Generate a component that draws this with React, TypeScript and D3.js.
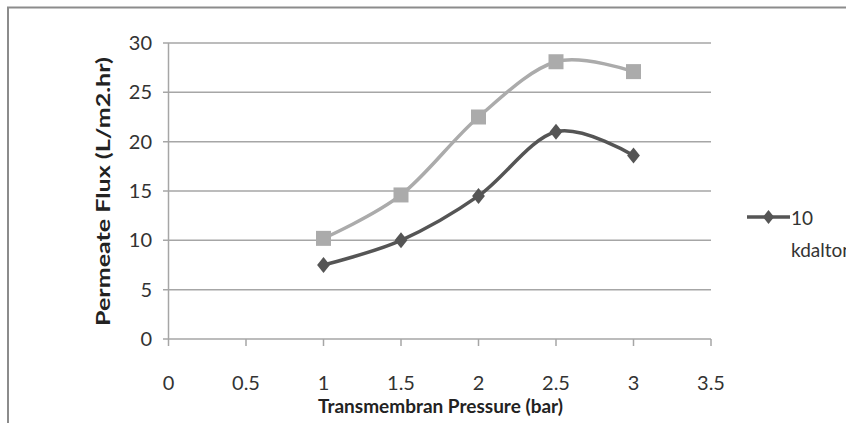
import React from "react";
import * as d3 from "d3";

const pressures = [1, 1.5, 2, 2.5, 3];
const flux10k = [7.5, 10, 14.5, 21, 18.6];
const fluxOther = [10.2, 14.6, 22.5, 28.1, 27.1];
const xTicks = [0, 0.5, 1, 1.5, 2, 2.5, 3, 3.5];
const yTicks = [0, 5, 10, 15, 20, 25, 30];
const legendLabel = ["10", "kdalton"];

const W = 846;
const H = 423;

export default function App() {
  const x = d3.scaleLinear().domain([0, 3.5]).range([168.5, 711]);
  const y = d3.scaleLinear().domain([0, 30]).range([339, 43]);
  const line = d3
    .line<number>()
    .x((_, i) => x(pressures[i]))
    .y((d) => y(d))
    .curve(d3.curveCardinal.tension(0));

  const grid = "#a6a6a6";
  const dark = "#555555";
  const light = "#ababab";
  const font = "Lato, 'Open Sans', sans-serif";

  const diamond = (cx: number, cy: number, r: number) =>
    `M${cx},${cy - r}L${cx + r * 0.8},${cy}L${cx},${cy + r}L${cx - r * 0.8},${cy}Z`;

  return (
    <svg
      width={W}
      height={H}
      style={{ position: "absolute", left: 0, top: 0, background: "#fff" }}
    >
      <rect x={0} y={0} width={W} height={H} fill="#fff" />
      {/* outer frame */}
      <path d={`M8,${H + 5}V7.5H${W + 5}`} fill="none" stroke="#8c8c8c" strokeWidth={2} />

      {/* gridlines */}
      {yTicks.map((t) => (
        <line
          key={"g" + t}
          x1={163}
          x2={711}
          y1={y(t)}
          y2={y(t)}
          stroke={grid}
          strokeWidth={1.5}
        />
      ))}
      {/* y axis */}
      <line x1={168.5} x2={168.5} y1={y(30)} y2={y(0)} stroke={grid} strokeWidth={1.5} />
      {/* x ticks */}
      {xTicks.map((t) => (
        <line
          key={"xt" + t}
          x1={x(t)}
          x2={x(t)}
          y1={y(0)}
          y2={y(0) + 7}
          stroke={grid}
          strokeWidth={1.5}
        />
      ))}
      {/* y tick labels */}
      {yTicks.map((t) => (
        <text
          key={"yl" + t}
          x={152}
          y={y(t) + 7}
          textAnchor="end"
          fontFamily={font}
          fontSize={20}
          fill="#333"
        >
          {t}
        </text>
      ))}
      {/* x tick labels */}
      {xTicks.map((t) => (
        <text
          key={"xl" + t}
          x={x(t)}
          y={390}
          textAnchor="middle"
          fontFamily={font}
          fontSize={20}
          fill="#333"
        >
          {t}
        </text>
      ))}
      {/* axis titles */}
      <text
        x={318}
        y={413}
        fontFamily={font}
        fontWeight="bold"
        fontSize={19}
        fill="#222"
        textLength={245}
        lengthAdjust="spacingAndGlyphs"
      >
        Transmembran Pressure (bar)
      </text>
      <text
        transform="translate(110,326) rotate(-90)"
        x={0}
        y={0}
        fontFamily={font}
        fontWeight="bold"
        fontSize={18}
        fill="#222"
        textLength={269}
        lengthAdjust="spacingAndGlyphs"
      >
        Permeate Flux (L/m2.hr)
      </text>

      {/* light series */}
      <path d={line(fluxOther) || ""} fill="none" stroke={light} strokeWidth={3.5} />
      {fluxOther.map((v, i) => (
        <rect
          key={"s" + i}
          x={x(pressures[i]) - 7.5}
          y={y(v) - 7.5}
          width={15}
          height={15}
          fill={light}
        />
      ))}
      {/* dark series */}
      <path d={line(flux10k) || ""} fill="none" stroke={dark} strokeWidth={3.5} />
      {flux10k.map((v, i) => (
        <path key={"d" + i} d={diamond(x(pressures[i]), y(v), 8)} fill={dark} />
      ))}

      {/* legend */}
      <line x1={747} x2={790} y1={217} y2={217} stroke={dark} strokeWidth={3.5} />
      <path d={diamond(768.5, 217, 7)} fill={dark} />
      <text x={791} y={225} fontFamily={font} fontSize={19} fill="#333">
        {legendLabel[0]}
      </text>
      <text x={791} y={257} fontFamily={font} fontSize={19} fill="#333">
        {legendLabel[1]}
      </text>
    </svg>
  );
}
